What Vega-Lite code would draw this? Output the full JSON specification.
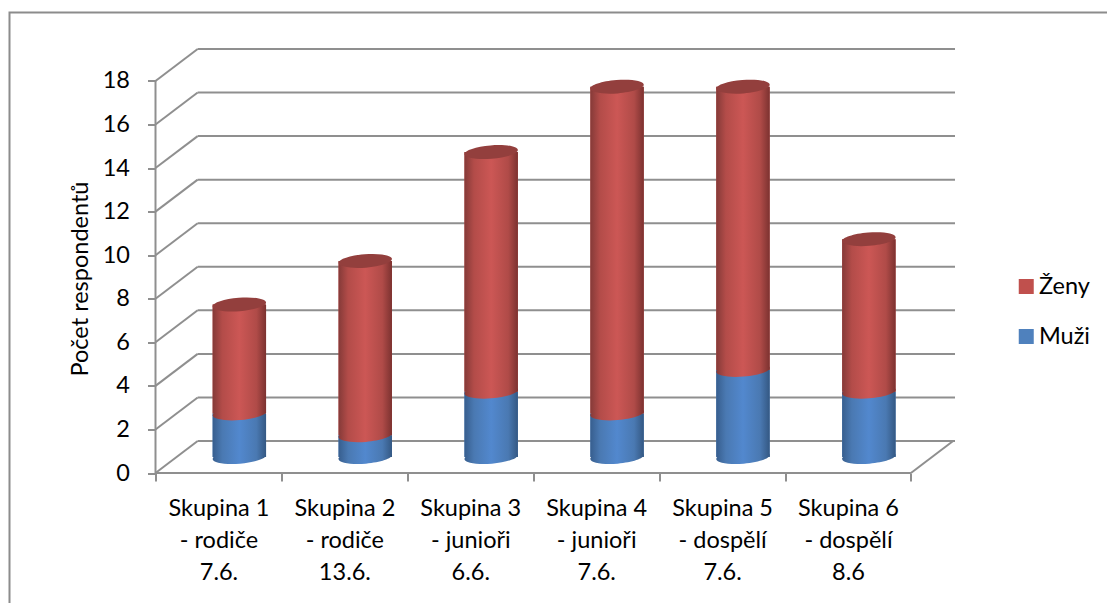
{
  "$schema": "https://vega.github.io/schema/vega-lite/v6.json",
  "width": 799.5,
  "height": 424.5,
  "autosize": {"type": "none"},
  "padding": {"left": 155.5, "top": 48.5, "right": 152, "bottom": 130},
  "background": "white",
  "config": {"font": "Lato", "view": {"stroke": null}},
  "datasets": {
    "respondents": [
      {"group": "Skupina 1 - rodiče 7.6.", "position": 0.666, "sex": "Muži", "rank": 0, "count": 2},
      {"group": "Skupina 1 - rodiče 7.6.", "position": 0.666, "sex": "Ženy", "rank": 1, "count": 5},
      {"group": "Skupina 2 - rodiče 13.6.", "position": 1.666, "sex": "Muži", "rank": 0, "count": 1},
      {"group": "Skupina 2 - rodiče 13.6.", "position": 1.666, "sex": "Ženy", "rank": 1, "count": 8},
      {"group": "Skupina 3 - junioři 6.6.", "position": 2.666, "sex": "Muži", "rank": 0, "count": 3},
      {"group": "Skupina 3 - junioři 6.6.", "position": 2.666, "sex": "Ženy", "rank": 1, "count": 11},
      {"group": "Skupina 4 - junioři 7.6.", "position": 3.666, "sex": "Muži", "rank": 0, "count": 2},
      {"group": "Skupina 4 - junioři 7.6.", "position": 3.666, "sex": "Ženy", "rank": 1, "count": 15},
      {"group": "Skupina 5 - dospělí 7.6.", "position": 4.666, "sex": "Muži", "rank": 0, "count": 4},
      {"group": "Skupina 5 - dospělí 7.6.", "position": 4.666, "sex": "Ženy", "rank": 1, "count": 13},
      {"group": "Skupina 6 - dospělí 8.6", "position": 5.666, "sex": "Muži", "rank": 0, "count": 3},
      {"group": "Skupina 6 - dospělí 8.6", "position": 5.666, "sex": "Ženy", "rank": 1, "count": 7}
    ],
    "walls": [
      {"x": 0, "x2": 0, "y": 0, "y2": 18},
      {"x": 0, "x2": 6, "y": 0, "y2": 0},
      {"x": 6, "x2": 6.335, "y": 0, "y2": 1.469},
      {"x": 0, "x2": 0.335, "y": 0, "y2": 1.469},
      {"x": 0, "x2": 0.335, "y": 2, "y2": 3.469},
      {"x": 0, "x2": 0.335, "y": 4, "y2": 5.469},
      {"x": 0, "x2": 0.335, "y": 6, "y2": 7.469},
      {"x": 0, "x2": 0.335, "y": 8, "y2": 9.469},
      {"x": 0, "x2": 0.335, "y": 10, "y2": 11.469},
      {"x": 0, "x2": 0.335, "y": 12, "y2": 13.469},
      {"x": 0, "x2": 0.335, "y": 14, "y2": 15.469},
      {"x": 0, "x2": 0.335, "y": 16, "y2": 17.469},
      {"x": 0, "x2": 0.335, "y": 18, "y2": 19.469},
      {"x": 0.335, "x2": 6.35, "y": 1.469, "y2": 1.469},
      {"x": 0.335, "x2": 6.35, "y": 3.469, "y2": 3.469},
      {"x": 0.335, "x2": 6.35, "y": 5.469, "y2": 5.469},
      {"x": 0.335, "x2": 6.35, "y": 7.469, "y2": 7.469},
      {"x": 0.335, "x2": 6.35, "y": 9.469, "y2": 9.469},
      {"x": 0.335, "x2": 6.35, "y": 11.469, "y2": 11.469},
      {"x": 0.335, "x2": 6.35, "y": 13.469, "y2": 13.469},
      {"x": 0.335, "x2": 6.35, "y": 15.469, "y2": 15.469},
      {"x": 0.335, "x2": 6.35, "y": 17.469, "y2": 17.469},
      {"x": 0.335, "x2": 6.35, "y": 19.469, "y2": 19.469}
    ]
  },
  "layer": [
    {
      "data": {"values": [{"frame": "chart"}]},
      "mark": {"type": "rect", "fill": null, "stroke": "#8C8C8C", "strokeWidth": 2, "clip": false},
      "encoding": {
        "x": {"value": -146},
        "x2": {"value": 1000},
        "y": {"value": -36},
        "y2": {"value": 600}
      }
    },
    {
      "data": {"name": "walls"},
      "mark": {"type": "rule", "color": "#8F8F8F", "strokeWidth": 2},
      "encoding": {
        "x": {
          "field": "x",
          "type": "quantitative",
          "scale": {"domain": [0, 6.35], "nice": false, "zero": false, "padding": 0},
          "axis": {
            "values": [0, 0.5, 1, 1.5, 2, 2.5, 3, 3.5, 4, 4.5, 5, 5.5, 6],
            "title": null,
            "domain": false,
            "grid": false,
            "tickSize": 8,
            "tickWidth": 2,
            "tickColor": "#8F8F8F",
            "tickOpacity": {"condition": {"test": "datum.value % 1 != 0", "value": 0}, "value": 1},
            "labelExpr": "datum.value % 1 == 0 ? '' : split(['Skupina 1|- rodiče|7.6.', 'Skupina 2|- rodiče|13.6.', 'Skupina 3|- junioři|6.6.', 'Skupina 4|- junioři|7.6.', 'Skupina 5|- dospělí|7.6.', 'Skupina 6|- dospělí|8.6'][floor(datum.value)], '|')",
            "labelFont": "Lato",
            "labelFontSize": 23.5,
            "labelColor": "#000000",
            "labelLineHeight": 32,
            "labelPadding": 15,
            "labelAlign": "center",
            "labelOverlap": false,
            "labelBound": false,
            "labelFlush": false
          }
        },
        "x2": {"field": "x2"},
        "y": {
          "field": "y",
          "type": "quantitative",
          "scale": {"domain": [0, 19.49], "nice": false, "zero": false, "padding": 0},
          "axis": {
            "values": [0, 2, 4, 6, 8, 10, 12, 14, 16, 18],
            "title": "Počet respondentů",
            "titleFont": "Lato",
            "titleFontSize": 23.5,
            "titleFontWeight": "normal",
            "titleColor": "#000000",
            "titleX": -63,
            "titleY": 230,
            "domain": false,
            "grid": false,
            "tickSize": 8,
            "tickWidth": 2,
            "tickColor": "#8F8F8F",
            "labelFont": "Lato",
            "labelFontSize": 23.5,
            "labelColor": "#000000",
            "labelPadding": 18,
            "labelOverlap": false
          }
        },
        "y2": {"field": "y2"}
      }
    },
    {
      "data": {"name": "respondents"},
      "transform": [
        {"stack": "count", "groupby": ["group"], "sort": [{"field": "rank", "order": "ascending"}], "as": ["low", "high"]}
      ],
      "layer": [
        {
          "mark": {"type": "bar", "size": 53.4, "yOffset": -16, "y2Offset": -16},
          "encoding": {
            "color": {
              "field": "sex",
              "type": "nominal",
              "scale": {"domain": ["Ženy", "Muži"], "range": ["#C0504D", "#4F81BD"]},
              "legend": {
                "title": null,
                "orient": "none",
                "legendX": 859,
                "legendY": 227,
                "symbolType": "square",
                "symbolSize": 225,
                "symbolStrokeWidth": 0,
                "labelFont": "Lato",
                "labelFontSize": 23.5,
                "labelColor": "#000000",
                "labelOffset": 1,
                "rowPadding": 26,
                "clipHeight": 22
              }
            },
            "y2": {"field": "high"}
          }
        },
        {
          "transform": [{"filter": "datum.sex === 'Muži'"}],
          "mark": {
            "type": "point",
            "filled": true,
            "opacity": 1,
            "size": 2852,
            "yOffset": -16,
            "shape": "M-1,0.08A1,0.25,-4.5,1,0,1,-0.08A1,0.25,-4.5,1,0,-1,0.08Z",
            "fill": {"gradient": "linear", "x1": 0, "y1": 0, "x2": 1, "y2": 0, "stops": [
              {"offset": 0, "color": "#375E8E"}, {"offset": 0.18, "color": "#4A79B2"}, {"offset": 0.5, "color": "#5288CE"}, {"offset": 0.82, "color": "#4A79B2"}, {"offset": 1, "color": "#345883"}
            ]}
          }
        },
        {
          "transform": [{"filter": "datum.sex === 'Muži'"}],
          "mark": {
            "type": "bar",
            "size": 53.4,
            "yOffset": -16,
            "y2Offset": -16,
            "fill": {"gradient": "linear", "x1": 0, "y1": 0, "x2": 1, "y2": 0, "stops": [
              {"offset": 0, "color": "#375E8E"}, {"offset": 0.18, "color": "#4A79B2"}, {"offset": 0.5, "color": "#5288CE"}, {"offset": 0.82, "color": "#4A79B2"}, {"offset": 1, "color": "#345883"}
            ]}
          },
          "encoding": {"y2": {"field": "high"}}
        },
        {
          "transform": [{"filter": "datum.sex === 'Ženy'"}],
          "mark": {
            "type": "point",
            "filled": true,
            "opacity": 1,
            "size": 2852,
            "yOffset": -16,
            "shape": "M-1,0.08A1,0.25,-4.5,1,0,1,-0.08A1,0.25,-4.5,1,0,-1,0.08Z",
            "fill": {"gradient": "linear", "x1": 0, "y1": 0, "x2": 1, "y2": 0, "stops": [
              {"offset": 0, "color": "#853A38"}, {"offset": 0.18, "color": "#B34C49"}, {"offset": 0.5, "color": "#CC5755"}, {"offset": 0.82, "color": "#B04B48"}, {"offset": 1, "color": "#7C3230"}
            ]}
          }
        },
        {
          "transform": [{"filter": "datum.sex === 'Ženy'"}],
          "mark": {
            "type": "bar",
            "size": 53.4,
            "yOffset": -16,
            "y2Offset": -16,
            "fill": {"gradient": "linear", "x1": 0, "y1": 0, "x2": 1, "y2": 0, "stops": [
              {"offset": 0, "color": "#853A38"}, {"offset": 0.18, "color": "#B34C49"}, {"offset": 0.5, "color": "#CC5755"}, {"offset": 0.82, "color": "#B04B48"}, {"offset": 1, "color": "#7C3230"}
            ]}
          },
          "encoding": {"y2": {"field": "high"}}
        },
        {
          "transform": [{"filter": "datum.sex === 'Ženy'"}],
          "mark": {
            "type": "point",
            "filled": true,
            "opacity": 1,
            "size": 2852,
            "yOffset": -16,
            "color": "#933F3D",
            "shape": "M-1,0.08A1,0.25,-4.5,1,0,1,-0.08A1,0.25,-4.5,1,0,-1,0.08Z"
          },
          "encoding": {"y": {"field": "high", "type": "quantitative"}}
        }
      ],
      "encoding": {
        "x": {"field": "position", "type": "quantitative"},
        "y": {"field": "low", "type": "quantitative", "stack": null}
      }
    }
  ]
}
